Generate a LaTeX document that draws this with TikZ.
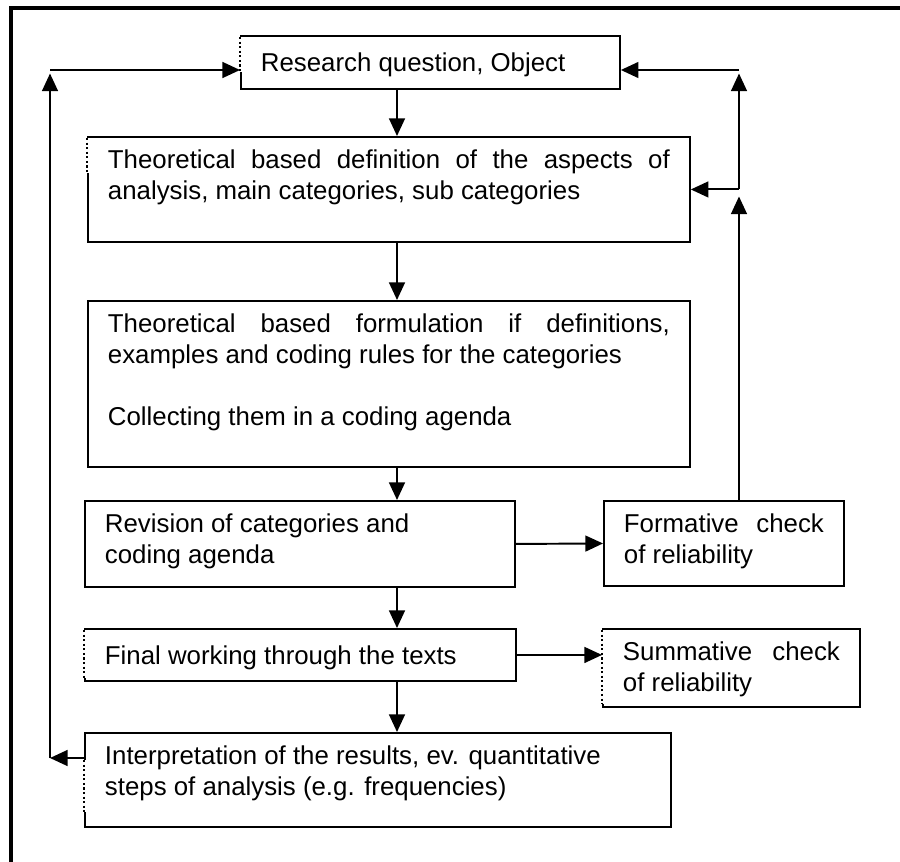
\documentclass[tikz,border=0pt]{standalone}
\usepackage{fontspec}
\setmainfont{Liberation Sans}
\usepackage{tikz}
\usetikzlibrary{arrows.meta,calc}

\begin{document}
\begin{tikzpicture}[x=0.02cm,y=-0.02cm,
    box/.style={draw, line width=1.1pt, anchor=north west, inner xsep=0.4cm, inner ysep=0.25cm,
      text height=0.39cm, align=justify, font=\fontsize{14.7}{17.6}\selectfont},
    flow/.style={line width=1.1pt, -{Triangle[length=10pt,width=9pt]}},
    wipe/.style={white, line width=2pt},
    brokenedge/.style={line width=1.1pt, dash pattern=on 1.2pt off 1.4pt}]
  \useasboundingbox (0,0) rectangle (900,862);
  % frame
  \draw[line width=2.8pt] (11,862) -- (11,8) -- (900,8);

  \node[box, text width=6.78cm, text height=0.47cm, text depth=0.09cm] (rq) at (240,35)
    {Research question, Object};
  \node[box, text width=11.24cm, text depth=1.21cm] (def) at (87,136)
    {Theoretical based definition of the aspects of\linebreak analysis, main categories, sub categories};
  \node[box, text width=11.24cm, text depth=2.43cm] (form) at (87,300)
    {Theoretical based formulation if definitions,\linebreak examples and coding rules for the categories\\[0.62cm]
     Collecting them in a coding agenda};
  \node[box, text width=7.8cm, text depth=0.83cm] (rev) at (84,500)
    {Revision of categories and\\coding agenda};
  \node[box, text width=4.0cm, text depth=0.81cm] (fcheck) at (603,500)
    {Formative check of reliability};
  \node[box, text width=7.82cm, text height=0.47cm, text depth=0.07cm] (final) at (84,628)
    {Final working through the texts};
  \node[box, text width=4.34cm, text depth=0.67cm] (scheck) at (602,628)
    {Summative check of reliability};
  \node[box, text width=10.92cm, text depth=0.99cm] (interp) at (84,732)
    {Interpretation of the results, ev. quantitative\\steps of analysis (e.g. frequencies)};

  % broken left edges
  \def\brokenleft#1#2#3{
    \draw[wipe] ($(#1.north west)+(0,#2)$) -- ($(#1.north west)+(0,#3)$);
    \draw[brokenedge] ($(#1.north west)+(0,#2)$) -- ($(#1.north west)+(0,#3)$);
  }
  \brokenleft{rq}{2}{37}
  \brokenleft{def}{2}{37}
  \brokenleft{final}{2}{50}
  \brokenleft{scheck}{2}{76}
  \brokenleft{interp}{28}{80}

  % main line
  \coordinate (spine) at (397,0);
  \draw[flow] (rq.south -| spine) -- (def.north -| spine);
  \draw[flow] (def.south -| spine) -- (form.north -| spine);
  \draw[flow] (form.south -| spine) -- (rev.north -| spine);
  \draw[flow] (rev.south -| spine) -- (final.north -| spine);
  \draw[flow] (final.south -| spine) -- (interp.north -| spine);
  \draw[flow] (rev.east) -- (fcheck.west);
  \draw[flow] (final.east) -- (final.east -| scheck.west);

  % feedback loops
  \coordinate (loop) at (0,70);
  \coordinate (rspine) at (739,0);
  \coordinate (lspine) at (50,0);
  \coordinate (rjoin) at (rspine |- def.east);
  \coordinate (lout) at ($(interp.north west)+(0,26)$);
  \draw[flow, shorten >=4pt] (fcheck.north -| rspine) -- (rjoin);
  \draw[flow] (rjoin) -- (def.east);
  \draw[flow, shorten >=2pt] (rjoin) -- (rspine |- loop);
  \draw[flow] (rspine |- loop) -- (rq.east |- loop);
  \draw[flow] (lout) -- (lspine |- lout);
  \draw[flow, shorten >=2pt] (lspine |- lout) -- (lspine |- loop);
  \draw[flow] (lspine |- loop) -- (rq.west |- loop);
\end{tikzpicture}
\end{document}
